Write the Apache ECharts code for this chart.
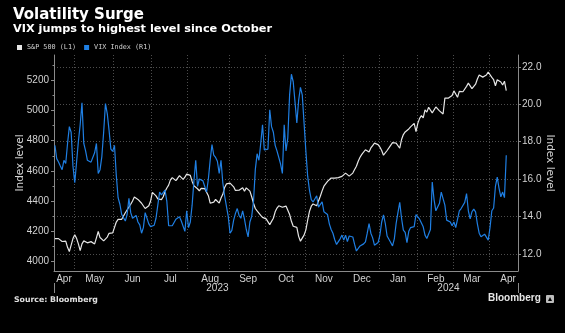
<!DOCTYPE html>
<html>
<head>
<meta charset="utf-8">
<script src="https://cdn.jsdelivr.net/npm/echarts@6/dist/echarts.min.js"></script>
<style>
  html, body { margin: 0; padding: 0; background: #000; }
  #chart { width: 565px; height: 333px; }
</style>
</head>
<body>
<div id="chart"></div>
<script>
// Trading calendar for the x axis (NYSE sessions), plus a few sessions of padding on the right
const firstSession = '2023-04-14';
const lastAxisSession = '2024-04-22';
const marketHolidays = ['2023-05-29', '2023-06-19', '2023-07-04', '2023-09-04', '2023-11-23',
  '2023-12-25', '2024-01-01', '2024-01-15', '2024-02-19', '2024-03-29'];

const monthNames = ['Jan', 'Feb', 'Mar', 'Apr', 'May', 'Jun', 'Jul', 'Aug', 'Sep', 'Oct', 'Nov', 'Dec'];
// sessions under which each month label sits
const monthLabelDays = ['2023-04-21', '2023-05-16', '2023-06-15', '2023-07-18', '2023-08-17',
  '2023-09-18', '2023-10-17', '2023-11-15', '2023-12-15', '2024-01-17', '2024-02-15',
  '2024-03-15', '2024-04-15'];

// S&P 500 daily close, 2023-04-14 .. 2024-04-12 (left axis)
const spx = [
  4150, 4156, 4150, 4137, 4131, 4131, 4133, 4092, 4064, 4055,
  4150, 4175, 4152, 4115, 4070, 4115, 4135, 4130, 4122, 4131,
  4130, 4127, 4115, 4155, 4197, 4157, 4152, 4135, 4128, 4160,
  4185, 4196, 4188, 4200, 4260, 4278, 4284, 4278, 4281, 4322,
  4335, 4360, 4378, 4400, 4426, 4425, 4410, 4397, 4385, 4374,
  4350, 4340, 4368, 4400, 4457, 4452, 4434, 4414, 4416, 4409,
  4428, 4463, 4486, 4505, 4540, 4555, 4543, 4535, 4552, 4568,
  4560, 4543, 4558, 4578, 4589, 4570, 4530, 4501, 4490, 4481,
  4467, 4484, 4476, 4482, 4471, 4435, 4385, 4382, 4392, 4410,
  4399, 4386, 4419, 4444, 4489, 4513, 4518, 4518, 4512, 4494,
  4470, 4459, 4471, 4464, 4488, 4465, 4487, 4500, 4465, 4428,
  4385, 4350, 4334, 4338, 4305, 4291, 4297, 4281, 4280, 4243,
  4256, 4285, 4328, 4353, 4368, 4355, 4358, 4347, 4366, 4355,
  4310, 4265, 4232, 4237, 4225, 4165, 4133, 4125, 4173, 4208,
  4272, 4331, 4365, 4380, 4382, 4368, 4380, 4431, 4467, 4498,
  4506, 4530, 4540, 4552, 4556, 4552, 4556, 4555, 4554, 4563,
  4569, 4585, 4576, 4565, 4557, 4585, 4609, 4630, 4664, 4690,
  4709, 4715, 4740, 4735, 4725, 4752, 4768, 4784, 4784, 4774,
  4758, 4735, 4704, 4698, 4735, 4752, 4765, 4787, 4779, 4784,
  4773, 4750, 4808, 4841, 4858, 4868, 4878, 4892, 4905, 4915,
  4860, 4915, 4948, 4966, 4951, 5004, 4990, 5022, 5020, 4985,
  4990, 5024, 5017, 4998, 4985, 4977, 5083, 5093, 5083, 5084,
  5100, 5131, 5110, 5088, 5128, 5125, 5125, 5123, 5161, 5182,
  5164, 5145, 5138, 5175, 5210, 5236, 5238, 5222, 5213, 5236,
  5256, 5249, 5220, 5205, 5165, 5205, 5211, 5190, 5170, 5195,
  5132
];

// CBOE VIX daily close, same sessions (right axis)
const vix = [
  17.80, 17.09, 16.91, 16.70, 16.50, 17.00, 16.83, 17.90, 18.80, 18.50,
  16.70, 15.80, 16.90, 18.00, 18.90, 20.08, 17.90, 17.50, 17.00, 16.95,
  16.90, 17.00, 17.40, 17.90, 16.30, 16.50, 17.20, 18.50, 20.03, 19.50,
  18.60, 17.60, 17.48, 17.80, 16.20, 15.00, 14.65, 14.10, 14.00, 13.75,
  14.10, 14.96, 14.20, 13.90, 14.00, 14.05, 13.70, 13.55, 13.10, 13.40,
  14.20, 14.30, 13.60, 13.45, 13.46, 13.53, 13.90, 14.60, 15.30, 15.15,
  15.05, 15.40, 14.80, 13.50, 13.40, 13.50, 13.40, 13.85, 13.75, 13.98,
  13.75, 13.80, 13.20, 14.30, 13.40, 13.70, 14.60, 15.90, 17.00, 15.60,
  16.00, 16.00, 15.90, 15.60, 15.30, 16.00, 17.00, 17.84, 17.27, 17.15,
  16.95, 16.30, 17.00, 15.80, 15.10, 14.55, 14.00, 13.10, 13.25, 13.80,
  14.16, 14.42, 14.05, 13.90, 14.30, 13.85, 13.30, 12.90, 13.70, 14.00,
  14.80, 16.50, 17.35, 17.00, 17.90, 18.90, 17.55, 17.45, 17.60, 19.70,
  18.80, 18.50, 17.80, 17.50, 17.60, 16.80, 16.30, 18.90, 17.50, 18.20,
  20.50, 21.60, 21.20, 20.10, 19.00, 20.20, 20.90, 20.50, 19.00, 17.50,
  16.15, 15.40, 14.90, 14.77, 14.67, 15.10, 14.50, 14.40, 14.78, 14.25,
  14.30, 14.10, 13.60, 13.30, 13.10, 12.75, 12.50, 12.65, 12.80, 13.00,
  12.73, 13.00, 12.65, 12.95, 12.85, 12.90, 12.50, 12.15, 12.20, 12.42,
  12.32, 12.53, 12.64, 13.10, 13.62, 13.10, 12.85, 12.46, 12.46, 12.60,
  13.00, 13.70, 14.08, 13.62, 12.95, 12.85, 12.60, 12.42, 12.80, 13.62,
  14.20, 14.75, 13.90, 13.27, 13.15, 12.60, 13.20, 13.40, 13.45, 13.45,
  14.10, 14.00, 13.85, 13.75, 13.44, 13.00, 12.82, 12.85, 13.30, 15.84,
  14.90, 14.30, 14.25, 14.70, 15.30, 15.30, 14.60, 13.80, 13.75, 13.70,
  13.50, 13.70, 13.40, 13.50, 14.30, 14.42, 14.46, 14.75, 15.22, 14.30,
  13.87, 14.25, 14.39, 14.24, 13.60, 13.10, 12.91, 12.93, 13.05, 13.05,
  12.73, 13.40, 14.30, 14.45, 15.60, 16.10, 15.50, 15.05, 15.30, 15.00,
  17.27
];

const leftTicks = [4000, 4200, 4400, 4600, 4800, 5000, 5200];
const leftMinorTicks = [4100, 4300, 4500, 4700, 4900, 5100, 5300];
const rightTicks = [12, 14, 16, 18, 20, 22];

// ---- build the session list ----
function iso(d) { return d.toISOString().slice(0, 10); }
const sessions = [];
{
  const holidaySet = new Set(marketHolidays);
  const d = new Date(firstSession + 'T00:00:00Z');
  const end = new Date(lastAxisSession + 'T00:00:00Z');
  while (d <= end) {
    const wd = d.getUTCDay();
    const s = iso(d);
    if (wd !== 0 && wd !== 6 && !holidaySet.has(s)) sessions.push(s);
    d.setUTCDate(d.getUTCDate() + 1);
  }
}
const monthStart = sessions.map((s, i) => i > 0 && s.slice(0, 7) !== sessions[i - 1].slice(0, 7));
const monthLabelSet = new Set(monthLabelDays);
const firstOf2024 = sessions.findIndex(s => s.startsWith('2024'));
const yearLabelIdx = new Set([Math.round((firstOf2024 - 1) / 2), Math.round((firstOf2024 + sessions.length - 1) / 2)]);

const axisGrey = '#8a8a8a';
const labelGrey = '#d2d2d2';
const gridGrey = '#4d4d4d';
const tickFont = 'Liberation Sans';

const chart = echarts.init(document.getElementById('chart'), null, { renderer: 'canvas' });
chart.setOption({
  backgroundColor: '#000',
  animation: false,
  title: {
    left: 8, top: 3, itemGap: 1,
    text: 'Volatility Surge',
    subtext: 'VIX jumps to highest level since October',
    textStyle: { color: '#fff', fontFamily: 'DejaVu Sans', fontWeight: 'bold', fontSize: 15 },
    subtextStyle: { color: '#fff', fontFamily: 'DejaVu Sans', fontWeight: 'bold', fontSize: 11.3 }
  },
  legend: {
    left: 12, top: 39, icon: 'rect', itemWidth: 5, itemHeight: 5, itemGap: 8,
    textStyle: { color: labelGrey, fontFamily: 'DejaVu Sans Mono', fontSize: 6.8 },
    data: ['S&P 500 (L1)', 'VIX Index (R1)']
  },
  grid: { left: 54, right: 47, top: 55, bottom: 62, containLabel: false },
  xAxis: [{
    type: 'category', data: sessions, boundaryGap: true,
    axisLine: { lineStyle: { color: axisGrey, width: 1 } },
    axisTick: { interval: (i) => monthStart[i], length: 2, lineStyle: { color: axisGrey } },
    splitLine: { show: true, interval: (i) => monthStart[i], lineStyle: { color: gridGrey, type: [1, 2], width: 1 } },
    axisLabel: {
      interval: (i, v) => monthLabelSet.has(v),
      formatter: (v) => monthNames[+v.slice(5, 7) - 1],
      color: labelGrey, fontFamily: tickFont, fontSize: 10, margin: 3
    }
  }, {
    type: 'category', data: sessions, boundaryGap: true, position: 'bottom', offset: 12,
    axisLine: { show: false },
    axisTick: { show: true, interval: (i) => i === firstOf2024, length: 10, lineStyle: { color: axisGrey } },
    splitLine: { show: false },
    axisLabel: {
      interval: (i) => yearLabelIdx.has(i),
      formatter: (v) => v.slice(0, 4),
      color: labelGrey, fontFamily: tickFont, fontSize: 10, margin: 0
    }
  }],
  yAxis: [{
    type: 'value', position: 'left', min: 3935, max: 5369,
    axisLine: { show: true, lineStyle: { color: axisGrey } },
    axisTick: { show: true, customValues: leftTicks, length: 3, lineStyle: { color: axisGrey } },
    axisLabel: { customValues: leftTicks, formatter: (v) => String(v), color: labelGrey, fontFamily: tickFont, fontSize: 10, margin: 5 },
    splitLine: { show: false },
    name: 'Index level', nameLocation: 'middle', nameGap: 28, nameMoveOverlap: false,
    nameTextStyle: { color: labelGrey, fontFamily: 'DejaVu Sans', fontSize: 10.5 }
  }, {
    type: 'value', position: 'right', min: 11.08, max: 22.63,
    axisLine: { show: true, lineStyle: { color: axisGrey } },
    axisTick: { show: true, customValues: rightTicks, length: 3, lineStyle: { color: axisGrey } },
    axisLabel: { customValues: rightTicks, formatter: (v) => v.toFixed(1), color: labelGrey, fontFamily: tickFont, fontSize: 10, margin: 4 },
    splitLine: { show: true, lineStyle: { color: gridGrey, type: [1, 2], width: 1 } },
    name: 'Index level', nameLocation: 'middle', nameGap: 26, nameRotate: -90, nameMoveOverlap: false,
    nameTextStyle: { color: labelGrey, fontFamily: 'DejaVu Sans', fontSize: 10.5 }
  }, {
    type: 'value', position: 'left', min: 3935, max: 5369,
    axisLine: { show: false },
    axisTick: { show: true, customValues: leftMinorTicks, length: 1.5, lineStyle: { color: axisGrey } },
    axisLabel: { show: false },
    splitLine: { show: false }
  }],
  series: [{
    name: 'S&P 500 (L1)', type: 'line', xAxisIndex: 0, yAxisIndex: 0, data: spx,
    showSymbol: false, color: '#e6e6e6', lineStyle: { width: 1.2, color: '#e6e6e6' }
  }, {
    name: 'VIX Index (R1)', type: 'line', xAxisIndex: 0, yAxisIndex: 1, data: vix,
    showSymbol: false, color: '#1f7fe3', lineStyle: { width: 1.2, color: '#1f7fe3' }
  }],
  graphic: [{
    type: 'text', left: 14, top: 296,
    style: { text: 'Source: Bloomberg', fill: '#e0e0e0', font: 'bold 7.8px "DejaVu Sans"' }
  }, {
    type: 'text', left: 488, top: 293,
    style: { text: 'Bloomberg', fill: '#e6e6e6', font: 'bold 10px "Liberation Sans"' }
  }, {
    type: 'group', left: 546, top: 295,
    children: [
      { type: 'rect', shape: { x: 0, y: 0, width: 8, height: 8, r: 1 }, style: { fill: '#bdbdbd' } },
      { type: 'polygon', shape: { points: [[2, 6], [4, 2], [6, 6]] }, style: { fill: '#000' } }
    ]
  }]
});
</script>
</body>
</html>
